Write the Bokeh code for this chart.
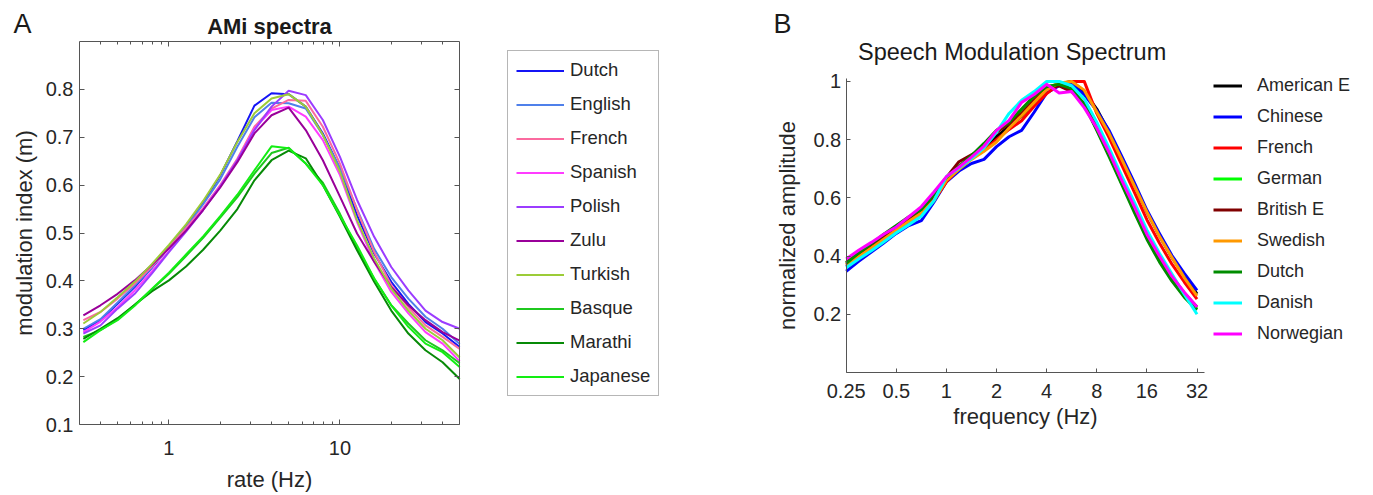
import math
from bokeh.plotting import figure
from bokeh.models import (FixedTicker, LogAxis, LinearAxis, Legend, LegendItem, Label,
                          CustomJSTickFormatter)
from bokeh.layouts import row
from bokeh.embed import file_html
from bokeh.resources import INLINE

# ---------------- Panel A data ----------------
rate_hz = [0.316, 0.398, 0.501, 0.631, 0.794, 1.0, 1.259, 1.585, 1.995, 2.512, 3.162, 3.981,
           5.012, 6.310, 7.943, 10.0, 12.59, 15.85, 19.95, 25.12, 31.62, 39.81, 50.12]

ami_dutch = [0.297, 0.318, 0.352, 0.387, 0.427, 0.470, 0.513, 0.563, 0.620, 0.692, 0.766, 0.792,
             0.790, 0.764, 0.708, 0.635, 0.537, 0.457, 0.398, 0.352, 0.314, 0.290, 0.262]
ami_english = [0.300, 0.320, 0.355, 0.390, 0.428, 0.470, 0.512, 0.560, 0.612, 0.680, 0.742, 0.772,
               0.771, 0.760, 0.704, 0.636, 0.550, 0.467, 0.408, 0.363, 0.325, 0.300, 0.268]
ami_french = [0.318, 0.335, 0.363, 0.394, 0.430, 0.470, 0.510, 0.552, 0.600, 0.655, 0.722, 0.760,
              0.778, 0.776, 0.722, 0.645, 0.548, 0.460, 0.391, 0.345, 0.307, 0.283, 0.258]
ami_spanish = [0.293, 0.315, 0.345, 0.380, 0.420, 0.462, 0.505, 0.550, 0.598, 0.652, 0.718, 0.757,
               0.764, 0.743, 0.694, 0.621, 0.523, 0.440, 0.377, 0.332, 0.293, 0.269, 0.232]
ami_polish = [0.290, 0.307, 0.342, 0.373, 0.415, 0.460, 0.503, 0.548, 0.597, 0.652, 0.715, 0.764,
              0.797, 0.788, 0.736, 0.659, 0.569, 0.492, 0.429, 0.380, 0.338, 0.314, 0.300]
ami_zulu = [0.328, 0.349, 0.373, 0.401, 0.433, 0.468, 0.505, 0.548, 0.595, 0.648, 0.708, 0.746,
            0.762, 0.715, 0.652, 0.576, 0.499, 0.440, 0.387, 0.349, 0.318, 0.293, 0.275]
ami_turkish = [0.311, 0.335, 0.366, 0.398, 0.435, 0.475, 0.518, 0.567, 0.622, 0.690, 0.750, 0.781,
               0.790, 0.764, 0.705, 0.628, 0.527, 0.447, 0.384, 0.338, 0.300, 0.276, 0.240]
ami_basque = [0.283, 0.297, 0.320, 0.350, 0.382, 0.415, 0.452, 0.490, 0.532, 0.575, 0.624, 0.667,
              0.678, 0.645, 0.605, 0.540, 0.467, 0.405, 0.349, 0.311, 0.276, 0.255, 0.228]
ami_marathi = [0.279, 0.300, 0.322, 0.350, 0.378, 0.401, 0.430, 0.465, 0.505, 0.550, 0.610, 0.652,
               0.672, 0.656, 0.600, 0.534, 0.464, 0.398, 0.338, 0.290, 0.255, 0.230, 0.195]
ami_japanese = [0.272, 0.297, 0.318, 0.348, 0.383, 0.417, 0.455, 0.493, 0.535, 0.580, 0.631, 0.681,
                0.677, 0.645, 0.600, 0.536, 0.474, 0.405, 0.349, 0.304, 0.269, 0.251, 0.220]

langs_a = ["Dutch", "English", "French", "Spanish", "Polish", "Zulu", "Turkish",
           "Basque", "Marathi", "Japanese"]
series_a = [ami_dutch, ami_english, ami_french, ami_spanish, ami_polish, ami_zulu, ami_turkish,
            ami_basque, ami_marathi, ami_japanese]
colors_a = ["#1414f5", "#4f80ea", "#fb6a9f", "#ff3cff", "#9b3cff", "#990099", "#9ccc38",
            "#1fc81f", "#078a07", "#12ee12"]

a_xticks = [1, 10]
a_xminor = [0.4, 0.5, 0.6, 0.7, 0.8, 0.9, 2, 3, 4, 5, 6, 7, 8, 9, 20, 30, 40]
a_yticks = [0.1, 0.2, 0.3, 0.4, 0.5, 0.6, 0.7, 0.8]

# ---------------- Panel B data ----------------
freq_hz = [0.25, 0.297, 0.354, 0.42, 0.5, 0.595, 0.707, 0.841, 1.0, 1.189, 1.414, 1.682, 2.0,
           2.378, 2.828, 3.364, 4.0, 4.757, 5.657, 6.727, 8.0, 9.514, 11.31, 13.45, 16.0,
           19.03, 22.63, 26.91, 32.0]

sms_american_e = [0.365, 0.395, 0.425, 0.457, 0.488, 0.518, 0.548, 0.598, 0.660, 0.700, 0.738,
                  0.765, 0.810, 0.845, 0.880, 0.925, 0.975, 0.992, 1.000, 0.965, 0.905, 0.825,
                  0.735, 0.645, 0.552, 0.470, 0.395, 0.330, 0.270]
sms_chinese = [0.348, 0.382, 0.414, 0.445, 0.478, 0.505, 0.522, 0.585, 0.655, 0.692, 0.718,
               0.732, 0.776, 0.810, 0.832, 0.894, 0.960, 0.985, 0.990, 0.955, 0.900, 0.830,
               0.742, 0.652, 0.558, 0.478, 0.402, 0.340, 0.282]
sms_french = [0.370, 0.400, 0.428, 0.458, 0.490, 0.515, 0.545, 0.590, 0.655, 0.700, 0.735,
              0.762, 0.800, 0.835, 0.865, 0.915, 0.958, 0.990, 1.000, 1.000, 0.890, 0.805,
              0.712, 0.620, 0.525, 0.445, 0.372, 0.310, 0.252]
sms_german = [0.378, 0.410, 0.440, 0.470, 0.502, 0.532, 0.560, 0.610, 0.668, 0.705, 0.742,
              0.782, 0.828, 0.862, 0.900, 0.948, 0.982, 0.990, 0.972, 0.920, 0.835, 0.745,
              0.650, 0.556, 0.463, 0.385, 0.318, 0.262, 0.218]
sms_british_e = [0.378, 0.408, 0.436, 0.465, 0.495, 0.525, 0.555, 0.605, 0.670, 0.724, 0.748,
                 0.772, 0.825, 0.855, 0.890, 0.935, 0.975, 0.985, 0.965, 0.925, 0.845, 0.760,
                 0.665, 0.572, 0.478, 0.398, 0.330, 0.272, 0.225]
sms_swedish = [0.370, 0.398, 0.428, 0.458, 0.490, 0.520, 0.548, 0.592, 0.660, 0.698, 0.732,
               0.760, 0.792, 0.840, 0.882, 0.928, 0.972, 0.995, 1.000, 0.970, 0.895, 0.820,
               0.732, 0.642, 0.552, 0.468, 0.395, 0.325, 0.263]
sms_dutch = [0.375, 0.410, 0.442, 0.475, 0.505, 0.535, 0.560, 0.612, 0.670, 0.708, 0.745,
             0.787, 0.832, 0.860, 0.905, 0.950, 0.982, 0.990, 0.975, 0.920, 0.832, 0.740,
             0.645, 0.550, 0.458, 0.380, 0.314, 0.258, 0.215]
sms_danish = [0.360, 0.390, 0.418, 0.448, 0.480, 0.508, 0.537, 0.590, 0.673, 0.702, 0.735,
              0.772, 0.826, 0.890, 0.935, 0.965, 1.000, 1.000, 0.985, 0.940, 0.860, 0.770,
              0.675, 0.585, 0.490, 0.410, 0.338, 0.268, 0.200]
sms_norwegian = [0.390, 0.420, 0.447, 0.475, 0.500, 0.535, 0.570, 0.620, 0.673, 0.705, 0.740,
                 0.778, 0.832, 0.866, 0.928, 0.955, 0.990, 0.960, 0.965, 0.910, 0.840, 0.755,
                 0.660, 0.570, 0.475, 0.400, 0.330, 0.275, 0.225]

langs_b = ["American E", "Chinese", "French", "German", "British E", "Swedish", "Dutch",
           "Danish", "Norwegian"]
series_b = [sms_american_e, sms_chinese, sms_french, sms_german, sms_british_e, sms_swedish,
            sms_dutch, sms_danish, sms_norwegian]
colors_b = ["#000000", "#0000ff", "#ff0000", "#00ff00", "#800000", "#ff9900", "#008c00",
            "#00ffff", "#ff00ff"]

b_xticks = [0.25, 0.5, 1, 2, 4, 8, 16, 32]
b_yticks = [0.2, 0.4, 0.6, 0.8, 1]

# ---------------- layout geometry (pixels) ----------------
H = 495
WA, WB = 680, 693
# panel A plot box: x 79..459, y 41..424 ; data 0.3..50 (log) x 0.1..0.9
A_L, A_R, A_T, A_B = 79, 459, 41, 424
A_X0, A_X1, A_Y0, A_Y1 = 0.3, 50.0, 0.1, 0.9
# panel B plot box (canvas coords): x 165.7..516.5 for 0.25..32, y 372 (0) .. 78 (1.01)
B_L, B_R, B_T, B_B = 165.7, 516.5, 78, 372
B_X0, B_X1, B_Y0, B_Y1 = 0.25, 32.0, 0.0, 1.01
B_XAXIS_END = 35.4


def log_range(px0, px1, v0, v1, width):
    dec = (px1 - px0) / (math.log10(v1) - math.log10(v0))
    return 10 ** (math.log10(v0) - px0 / dec), 10 ** (math.log10(v1) + (width - px1) / dec)


def lin_range(py_bottom_val, py_top_val, v0, v1, height):
    s = (py_bottom_val - py_top_val) / (v1 - v0)
    return v0 - (height - py_bottom_val) / s, v1 + py_top_val / s


FONT = "Liberation Sans"
TXT = "#262626"
AXC = "#555555"


def fmt():
    return CustomJSTickFormatter(code="return String(tick)")


def style_axis(ax, tick_in=5):
    ax.axis_line_color = AXC
    ax.major_tick_line_color = AXC
    ax.minor_tick_line_color = AXC
    ax.major_tick_in = tick_in
    ax.major_tick_out = 0
    ax.minor_tick_in = 3
    ax.minor_tick_out = 0
    ax.major_label_text_font = FONT
    ax.major_label_text_font_size = "20px"
    ax.major_label_text_color = TXT
    ax.axis_label_text_font = FONT
    ax.axis_label_text_font_size = "22px"
    ax.axis_label_text_font_style = "normal"
    ax.axis_label_text_color = TXT


def hide_labels(ax):
    ax.major_label_text_alpha = 0
    ax.major_label_text_font_size = "2px"
    ax.major_label_standoff = 0


# ---------------- Panel A ----------------
pA = figure(width=WA, height=H, x_axis_type="log",
            x_range=log_range(A_L, A_R, A_X0, A_X1, WA),
            y_range=lin_range(A_B, A_T, A_Y0, A_Y1, H),
            output_backend="svg", toolbar_location=None, min_border=0)
pA.grid.visible = False
pA.outline_line_color = None

xa = pA.xaxis[0]
xa.ticker = FixedTicker(ticks=a_xticks, minor_ticks=a_xminor)
xa.formatter = fmt()
xa.axis_label = "rate (Hz)"
style_axis(xa)
xa.fixed_location = A_Y0
xa.bounds = (A_X0, A_X1)
xa.major_label_standoff = 16
xa.axis_label_standoff = 9

ya = pA.yaxis[0]
ya.ticker = FixedTicker(ticks=a_yticks)
ya.formatter = fmt()
ya.axis_label = "modulation index (m)"
style_axis(ya)
ya.fixed_location = A_X0
ya.bounds = (A_Y0, A_Y1)
ya.major_label_standoff = 6
ya.axis_label_standoff = 6

top_ax = LogAxis(ticker=FixedTicker(ticks=a_xticks, minor_ticks=a_xminor))
style_axis(top_ax)
hide_labels(top_ax)
top_ax.fixed_location = A_Y1
top_ax.bounds = (A_X0, A_X1)
pA.add_layout(top_ax, "above")

right_ax = LinearAxis(ticker=FixedTicker(ticks=a_yticks))
style_axis(right_ax)
hide_labels(right_ax)
right_ax.fixed_location = A_X1
right_ax.bounds = (A_Y0, A_Y1)
pA.add_layout(right_ax, "right")

items_a = []
for name, ys, col in zip(langs_a, series_a, colors_a):
    r = pA.line(rate_hz, ys, line_color=col, line_width=2)
    items_a.append(LegendItem(label=name, renderers=[r]))

legA = Legend(items=items_a, location=(507, H - 396), border_line_color="#6e6e6e",
              border_line_width=1, background_fill_color="white", background_fill_alpha=1,
              label_text_font=FONT, label_text_font_size="18.5px", label_text_color=TXT,
              glyph_width=48, glyph_height=21, label_height=21, spacing=12,
              padding=8, label_standoff=6, margin=0)
pA.add_layout(legA, "center")

pA.add_layout(Label(x=13, y=H - 23, x_units="screen", y_units="screen", text="A",
                    text_font=FONT, text_font_size="27px", text_color="#1a1a1a",
                    text_baseline="alphabetic"))
pA.add_layout(Label(x=(A_L + A_R) / 2, y=H - 26, x_units="screen", y_units="screen",
                    text="AMi spectra", text_font=FONT, text_font_size="22px",
                    text_font_style="bold", text_color="#1a1a1a", text_align="center",
                    text_baseline="alphabetic"))

# ---------------- Panel B ----------------
pB = figure(width=WB, height=H, x_axis_type="log",
            x_range=log_range(B_L, B_R, B_X0, B_X1, WB),
            y_range=lin_range(B_B, B_T, B_Y0, B_Y1, H),
            output_backend="svg", toolbar_location=None, min_border=0)
pB.grid.visible = False
pB.outline_line_color = None

xb = pB.xaxis[0]
xb.ticker = FixedTicker(ticks=b_xticks)
xb.formatter = fmt()
xb.axis_label = "frequency (Hz)"
style_axis(xb, tick_in=4)
xb.fixed_location = B_Y0
xb.bounds = (B_X0, B_XAXIS_END)
xb.major_label_standoff = 11
xb.axis_label_standoff = 3

yb = pB.yaxis[0]
yb.ticker = FixedTicker(ticks=b_yticks)
yb.formatter = fmt()
yb.axis_label = "normalized amplitude"
style_axis(yb, tick_in=4)
yb.fixed_location = B_X0
yb.bounds = (B_Y0, B_Y1)
yb.major_label_standoff = 5
yb.axis_label_standoff = 11

items_b = []
for name, ys, col in zip(langs_b, series_b, colors_b):
    r = pB.line(freq_hz, ys, line_color=col, line_width=3, line_join="round")
    items_b.append(LegendItem(label=name, renderers=[r]))

legB = Legend(items=items_b, location=(1213 - WA, H - 344), border_line_color=None,
              background_fill_alpha=0,
              label_text_font=FONT, label_text_font_size="18px", label_text_color=TXT,
              glyph_width=29, glyph_height=21, label_height=21, spacing=10,
              padding=5, label_standoff=15, margin=0)
pB.add_layout(legB, "center")

pB.add_layout(Label(x=773 - WA, y=H - 23, x_units="screen", y_units="screen", text="B",
                    text_font=FONT, text_font_size="27px", text_color="#1a1a1a",
                    text_baseline="alphabetic"))
pB.add_layout(Label(x=1011.6 - WA, y=H - 51, x_units="screen", y_units="screen",
                    text="Speech Modulation Spectrum",
                    text_font=FONT, text_font_size="23.5px", text_color="#1a1a1a",
                    text_align="center", text_baseline="alphabetic"))

layout = row(pA, pB)
open("out.html", "w").write(file_html(layout, INLINE))
